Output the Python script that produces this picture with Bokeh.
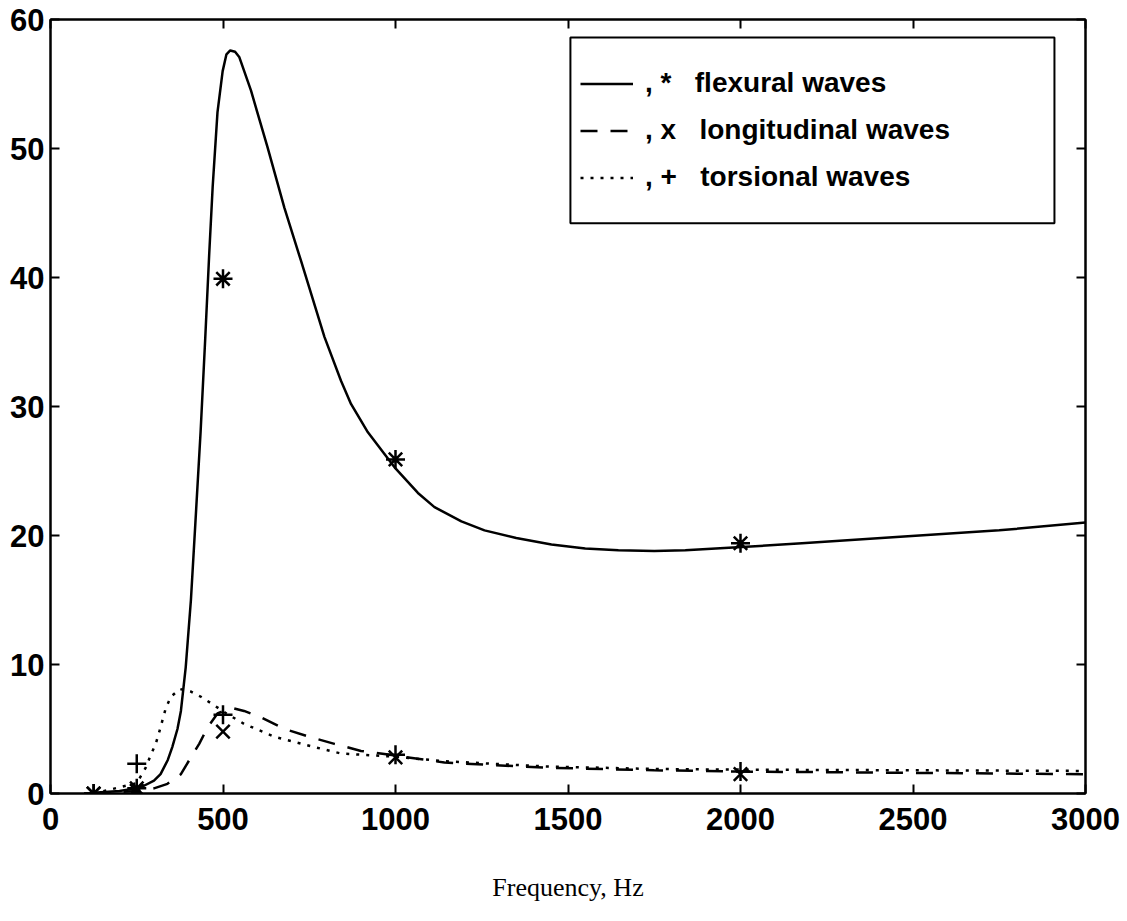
from bokeh.plotting import figure
from bokeh.models import Range1d, LinearAxis, FixedTicker, Legend, LegendItem, BoxAnnotation, CustomJSTickFormatter
from bokeh.embed import file_html
from bokeh.resources import INLINE

# ---- data ----
flex_freq = [125, 200, 250, 271, 300, 319, 340, 353, 368, 378, 392, 407, 420, 435, 448, 460, 470, 484, 499, 510,
             521, 535, 547, 581, 629, 678, 726, 794, 842, 871, 920, 1000, 1065, 1113, 1191, 1258, 1350, 1452,
             1550, 1646, 1750, 1840, 2004, 2178, 2463, 2750, 3000]
flex_val = [0.05, 0.2, 0.4, 0.6, 1.0, 1.5, 2.6, 3.6, 5.0, 6.4, 9.8, 15.0, 21.0, 28.0, 35.0, 41.8, 47.0, 52.8, 56.0, 57.3,
            57.6, 57.5, 57.1, 54.5, 50.1, 45.4, 41.3, 35.4, 32.0, 30.2, 28.0, 25.2, 23.3, 22.2, 21.1, 20.4, 19.8, 19.3,
            19.0, 18.85, 18.8, 18.85, 19.1, 19.4, 19.9, 20.4, 21.0]

long_freq = [125, 250, 300, 339, 378, 407, 431, 455, 484, 510, 532, 561, 610, 678, 750, 823, 900, 997, 1142,
             1433, 1750, 2000, 2500, 3000]
long_val = [0.0, 0.2, 0.4, 0.75, 1.5, 2.8, 3.85, 5.1, 6.2, 6.5, 6.6, 6.4, 5.9, 5.0, 4.4, 3.85, 3.3, 2.95, 2.4,
            2.0, 1.8, 1.7, 1.6, 1.5]

tors_freq = [125, 250, 276, 290, 305, 315, 334, 349, 375, 407, 436, 465, 510, 561, 649, 765, 842, 1000, 1142,
             1433, 1750, 2000, 2500, 3000]
tors_val = [0.0, 0.8, 2.0, 2.95, 3.85, 4.75, 6.6, 7.5, 8.1, 7.9, 7.5, 7.0, 6.2, 5.4, 4.4, 3.6, 3.1, 2.85, 2.5,
            2.1, 1.9, 1.85, 1.8, 1.75]

band_freq = [125, 250, 500, 1000, 2000]
flex_meas = [0.0, 0.4, 39.9, 25.9, 19.4]
long_meas = [0.0, 0.2, 4.8, 2.8, 1.5]
tors_meas = [0.0, 2.3, 6.1, 3.0, 1.7]

x_ticks = [0, 500, 1000, 1500, 2000, 2500, 3000]
y_ticks = [0, 10, 20, 30, 40, 50, 60]

legend_labels = [", *\u00a0\u00a0\u00a0flexural waves",
                 ", x\u00a0\u00a0\u00a0longitudinal waves",
                 ", +\u00a0\u00a0\u00a0torsional waves"]
x_title = "Frequency, Hz"

# ---- figure ----
SANS = "Liberation Sans"
p = figure(width=1127, height=921, output_backend="svg", toolbar_location=None,
           x_range=Range1d(0, 3000), y_range=Range1d(0, 60),
           min_border_left=50, min_border_right=42, min_border_top=19, min_border_bottom=128)
p.background_fill_color = "white"
p.border_fill_color = "white"
p.outline_line_color = "black"
p.outline_line_width = 2
p.xgrid.visible = False
p.ygrid.visible = False

for ax in (p.xaxis[0], p.yaxis[0]):
    ax.axis_line_width = 2
    ax.major_tick_in = 9
    ax.major_tick_out = 0
    ax.major_tick_line_width = 2
    ax.minor_tick_line_color = None
    ax.major_label_text_font = SANS
    ax.major_label_text_font_style = "bold"
    ax.major_label_text_font_size = "31px"
    ax.major_label_text_color = "black"

p.xaxis.ticker = FixedTicker(ticks=x_ticks)
p.yaxis.ticker = FixedTicker(ticks=y_ticks)
p.xaxis.major_label_standoff = 14
p.yaxis.major_label_standoff = 6
p.xaxis.axis_label = x_title
p.xaxis.axis_label_text_font = "Liberation Serif"
p.xaxis.axis_label_text_font_style = "normal"
p.xaxis.axis_label_text_font_size = "26px"
p.xaxis.axis_label_text_color = "black"
p.xaxis.axis_label_standoff = 40

blank = CustomJSTickFormatter(code="return ''")
top_ax = LinearAxis(ticker=FixedTicker(ticks=x_ticks), formatter=blank, axis_line_width=2,
                    major_tick_in=9, major_tick_out=0, major_tick_line_width=2,
                    minor_tick_line_color=None, major_label_standoff=0, major_label_text_font_size="1px")
right_ax = LinearAxis(ticker=FixedTicker(ticks=y_ticks), formatter=blank, axis_line_width=2,
                      major_tick_in=9, major_tick_out=0, major_tick_line_width=2,
                      minor_tick_line_color=None, major_label_standoff=0, major_label_text_font_size="1px")
p.add_layout(top_ax, "above")
p.add_layout(right_ax, "right")

LW = 2.5
r_flex = p.line(flex_freq, flex_val, line_color="black", line_width=LW)
r_long = p.line(long_freq, long_val, line_color="black", line_width=LW, line_dash="17 13")
r_tors = p.line(tors_freq, tors_val, line_color="black", line_width=LW, line_dash="3 7")

p.scatter(band_freq, flex_meas, marker="asterisk", size=19, line_color="black", line_width=2.5)
p.scatter(band_freq, long_meas, marker="x", size=19, line_color="black", line_width=2.5)
p.scatter(band_freq, tors_meas, marker="cross", size=19, line_color="black", line_width=2.5)

# legend frame
box = BoxAnnotation(left=1507, right=2910, bottom=44.2, top=58.6,
                    fill_color="white", fill_alpha=1.0, line_color="black", line_width=2, line_alpha=1.0)
p.add_layout(box)

legend = Legend(items=[LegendItem(label=legend_labels[0], renderers=[r_flex]),
                       LegendItem(label=legend_labels[1], renderers=[r_long]),
                       LegendItem(label=legend_labels[2], renderers=[r_tors])],
                location=(519, 581.5), margin=0, padding=11, spacing=0,
                glyph_width=53, glyph_height=47, label_height=47, label_standoff=12,
                label_text_font=SANS, label_text_font_style="bold", label_text_font_size="28px",
                label_text_color="black", border_line_alpha=0, background_fill_alpha=0)
legend.click_policy = "none"
p.add_layout(legend, "center")

open("out.html", "w").write(file_html(p, INLINE))
